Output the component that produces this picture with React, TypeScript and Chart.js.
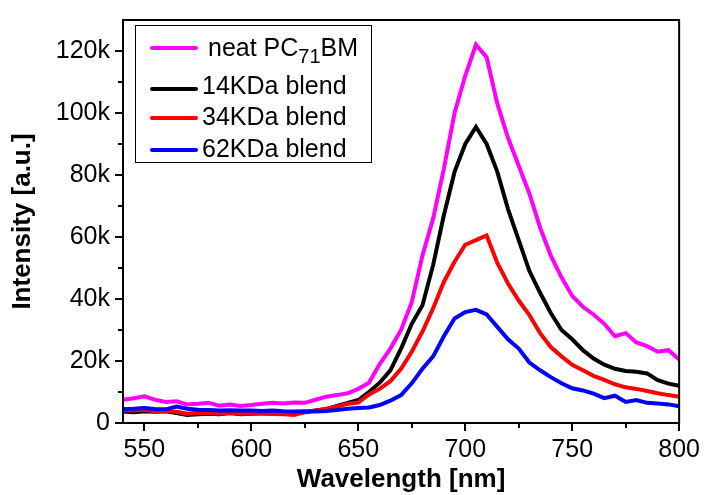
import React, { useEffect, useRef } from "react";
import { Chart, registerables } from "chart.js";

Chart.register(...registerables);

const WAVELENGTH = [
  540, 545, 550, 555, 560, 565, 570, 575, 580, 585, 590, 595, 600, 605, 610, 615, 620, 625,
  630, 635, 640, 645, 650, 655, 660, 665, 670, 675, 680, 685, 690, 695, 700, 705, 710, 715,
  720, 725, 730, 735, 740, 745, 750, 755, 760, 765, 770, 775, 780, 785, 790, 795, 800,
];

// intensities in thousands (k)
const NEAT_K = [
  7.5, 8.0, 8.6, 7.5, 6.8, 7.0, 6.0, 6.2, 6.5, 5.6, 6.0, 5.5, 5.8, 6.2, 6.5, 6.3, 6.6, 6.5,
  7.5, 8.5, 9.0, 9.6, 11.0, 13.0, 19.0, 24.0, 30.0, 39.0, 54.0, 66.0, 82.0, 100.0, 112.0, 122.0, 118.0, 103.0,
  92.0, 83.0, 74.0, 63.0, 54.0, 47.0, 41.0, 37.5, 35.0, 32.0, 28.0, 29.0, 26.0, 24.8, 23.0, 23.5, 20.5,
];
const KDA14_K = [
  3.7, 3.5, 3.8, 3.6, 3.8, 3.2, 2.6, 2.8, 3.0, 2.8, 3.2, 2.8, 3.0, 3.2, 3.0, 3.2, 3.3, 3.5,
  4.0, 4.5, 5.5, 6.5, 7.4, 10.0, 13.0, 17.0, 24.0, 32.0, 38.0, 51.0, 67.0, 81.0, 90.0, 95.5, 90.0, 81.0,
  69.0, 59.0, 49.0, 42.0, 35.5, 30.0, 27.0, 23.5, 20.8, 18.8, 17.5, 16.8, 16.5, 16.0, 13.8, 12.7, 12.0,
];
const KDA34_K = [
  4.2, 4.0, 4.3, 3.8, 3.9, 3.6, 3.0, 3.3, 3.2, 3.0, 3.2, 3.0, 3.1, 3.0, 2.9, 2.8, 2.6, 3.5,
  4.0, 4.6, 5.3, 6.2, 6.6, 9.2, 11.0, 13.5, 17.5, 23.0, 29.5, 37.0, 45.5, 52.0, 57.5, 59.0, 60.5, 51.6,
  45.0, 39.5, 34.8, 29.0, 24.5, 21.5, 18.8, 17.0, 15.2, 13.9, 12.5, 11.5, 11.0, 10.3, 9.6, 9.0, 8.5,
];
const KDA62_K = [
  4.5, 4.6, 4.8, 4.5, 4.4, 5.3, 4.6, 4.3, 4.2, 4.0, 4.1, 4.0, 4.0, 3.9, 4.0, 3.8, 3.7, 3.8,
  3.7, 3.9, 4.2, 4.6, 4.8, 5.0, 5.8, 7.2, 9.0, 12.8, 17.5, 21.5, 28.0, 33.7, 35.8, 36.5, 35.0, 31.0,
  27.0, 24.0, 19.5, 17.0, 14.8, 12.8, 11.2, 10.5, 9.5, 8.0, 8.8, 6.8, 7.4, 6.5, 6.3, 6.0, 5.4,
];

const X_TICKS = [550, 600, 650, 700, 750, 800];
const X_MINOR = [575, 625, 675, 725, 775];
const Y_TICKS = [0, 20000, 40000, 60000, 80000, 100000, 120000];
const Y_MINOR = [10000, 30000, 50000, 70000, 90000, 110000];

const SERIES = [
  { label: "neat PC71BM", data: NEAT_K, color: "#FF00FF", order: 4 },
  { label: "14KDa blend", data: KDA14_K, color: "#000000", order: 3 },
  { label: "34KDa blend", data: KDA34_K, color: "#FF0000", order: 2 },
  { label: "62KDa blend", data: KDA62_K, color: "#0000FF", order: 1 },
];

const FONT = "'Liberation Sans', Arial, sans-serif";

const framePlugin = {
  id: "framePlugin",
  afterDraw(chart: any) {
    const { ctx, chartArea } = chart;
    const { left, right, top, bottom } = chartArea;
    const xs = chart.scales.x;
    const ys = chart.scales.y;
    ctx.save();
    ctx.strokeStyle = "#000";
    ctx.lineWidth = 2;
    ctx.strokeRect(left, top, right - left, bottom - top);
    ctx.beginPath();
    X_MINOR.forEach((v) => {
      const px = Math.round(xs.getPixelForValue(v));
      ctx.moveTo(px, bottom);
      ctx.lineTo(px, bottom + 5);
    });
    Y_MINOR.forEach((v) => {
      const py = Math.round(ys.getPixelForValue(v));
      ctx.moveTo(left - 5, py);
      ctx.lineTo(left, py);
    });
    ctx.stroke();
    ctx.restore();
  },
};

export default function App() {
  const canvasRef = useRef<HTMLCanvasElement | null>(null);

  useEffect(() => {
    const canvas = canvasRef.current;
    if (!canvas) return;
    const chart = new Chart(canvas, {
      type: "line",
      data: {
        datasets: SERIES.map((s) => ({
          label: s.label,
          data: WAVELENGTH.map((w, i) => ({ x: w, y: s.data[i] * 1000 })),
          borderColor: s.color,
          backgroundColor: s.color,
          borderWidth: 4,
          pointRadius: 0,
          tension: 0,
          order: s.order,
        })),
      },
      options: {
        responsive: false,
        animation: false,
        devicePixelRatio: 1,
        layout: { padding: { top: 14, right: 23, left: 0, bottom: 0 } },
        plugins: { legend: { display: false }, tooltip: { enabled: false } },
        scales: {
          x: {
            type: "linear",
            min: 540,
            max: 800,
            afterBuildTicks: (scale: any) => {
              scale.ticks = X_TICKS.map((v) => ({ value: v }));
            },
            afterFit: (scale: any) => {
              scale.height = 72;
            },
            grid: {
              display: true,
              drawOnChartArea: false,
              drawTicks: true,
              tickLength: 8,
              color: "#000",
              lineWidth: 2,
            },
            border: { display: false },
            ticks: {
              color: "#000",
              font: { family: FONT, size: 25 },
              padding: 4,
              maxRotation: 0,
              autoSkip: false,
              callback: (v: any) => String(v),
            },
            title: {
              display: true,
              text: "Wavelength [nm]",
              color: "#000",
              font: { family: FONT, size: 26, weight: "bold" },
              padding: { top: 0, bottom: 0 },
            },
          },
          y: {
            type: "linear",
            min: 0,
            max: 130000,
            afterBuildTicks: (scale: any) => {
              scale.ticks = Y_TICKS.map((v) => ({ value: v }));
            },
            afterFit: (scale: any) => {
              scale.width = 123;
            },
            grid: {
              display: true,
              drawOnChartArea: false,
              drawTicks: true,
              tickLength: 8,
              color: "#000",
              lineWidth: 2,
            },
            border: { display: false },
            ticks: {
              color: "#000",
              font: { family: FONT, size: 25 },
              padding: 5,
              autoSkip: false,
              callback: (v: any) => (v === 0 ? "0" : `${v / 1000}k`),
            },
            title: {
              display: true,
              text: "Intensity [a.u.]",
              color: "#000",
              font: { family: FONT, size: 26, weight: "bold" },
              padding: { top: 7, bottom: 0 },
            },
          },
        },
      },
      plugins: [framePlugin],
    });
    return () => chart.destroy();
  }, []);

  const textStyle: React.CSSProperties = {
    position: "absolute",
    fontFamily: FONT,
    fontSize: 25,
    lineHeight: "25px",
    color: "#000",
    whiteSpace: "nowrap",
  };
  const lineStyle = (color: string, top: number): React.CSSProperties => ({
    position: "absolute",
    left: 150,
    top: top - 2,
    width: 48,
    height: 4,
    background: color,
    borderRadius: 2,
  });

  return (
    <div style={{ position: "absolute", left: 0, top: 0, width: 704, height: 495, background: "#fff" }}>
      <canvas ref={canvasRef} width={704} height={495} style={{ width: 704, height: 495, display: "block" }} />
      <div
        style={{
          position: "absolute",
          left: 135,
          top: 25,
          width: 237,
          height: 138,
          border: "1.5px solid #000",
          boxSizing: "border-box",
        }}
      />
      <div style={lineStyle(SERIES[0].color, 48)} />
      <div style={{ ...textStyle, left: 208, top: 34.5 }}>
        neat PC<span style={{ fontSize: 20, lineHeight: "20px", position: "relative", top: 7 }}>71</span>BM
      </div>
      <div style={lineStyle(SERIES[1].color, 89)} />
      <div style={{ ...textStyle, left: 202, top: 73 }}>{SERIES[1].label}</div>
      <div style={lineStyle(SERIES[2].color, 118)} />
      <div style={{ ...textStyle, left: 202, top: 104 }}>{SERIES[2].label}</div>
      <div style={lineStyle(SERIES[3].color, 150)} />
      <div style={{ ...textStyle, left: 202, top: 135.5 }}>{SERIES[3].label}</div>
    </div>
  );
}
